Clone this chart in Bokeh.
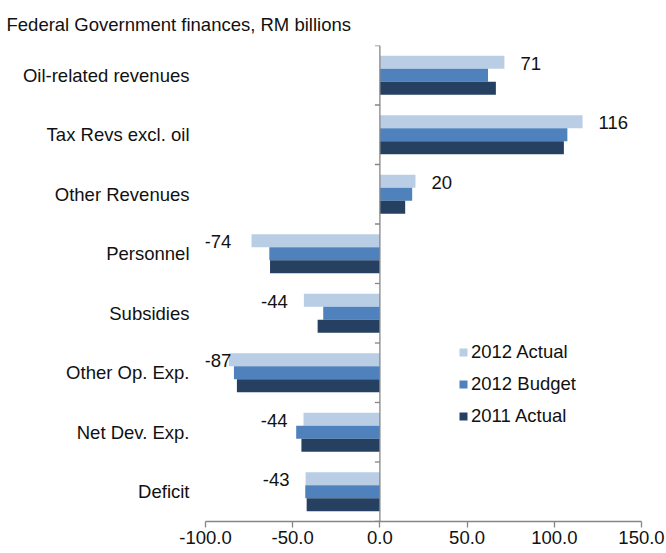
from bokeh.plotting import figure
from bokeh.models import (ColumnDataSource, Range1d, LinearAxis, FixedTicker,
                          NumeralTickFormatter, Legend, LegendItem, Title, Span)
from bokeh.embed import file_html
from bokeh.resources import INLINE

# ---- data ----
categories = ["Oil-related revenues", "Tax Revs excl. oil", "Other Revenues",
              "Personnel", "Subsidies", "Other Op. Exp.", "Net Dev. Exp.", "Deficit"]
series_names = ["2012 Actual", "2012 Budget", "2011 Actual"]
actual_2012 = [71.4, 116.2, 20.4, -73.6, -43.6, -86.6, -43.8, -42.6]
budget_2012 = [62.0, 107.5, 18.5, -63.4, -32.5, -83.7, -48.0, -42.8]
actual_2011 = [66.5, 105.5, 14.5, -63.0, -35.7, -82.0, -45.0, -42.0]
x_ticks = [-100, -50, 0, 50, 100, 150]
title_text = "Federal Government finances, RM billions"

colors = ["#B9CDE5", "#4F81BD", "#254061"]
FONT = "Liberation Sans"
FS = "18.5px"
GRAY = "#868686"
TXT = "#111111"

W, H = 666, 553
BL, BR, BT, BB = 205, 25, 45, 32
n = len(categories)
XMIN, XMAX = -100, 150
px_per_unit = (W - BL - BR) / (XMAX - XMIN)

p = figure(width=W, height=H, x_range=Range1d(XMIN, XMAX), y_range=Range1d(n, 0),
           output_backend="svg", toolbar_location=None,
           x_axis_location=None, y_axis_location=None,
           min_border_left=BL, min_border_right=BR, min_border_top=BT, min_border_bottom=BB,
           outline_line_color=None, background_fill_color="white", border_fill_color="white")
p.grid.grid_line_color = None

p.title = Title(text=title_text, align="left", offset=-199, standoff=22,
                text_font=FONT, text_font_size=FS, text_font_style="normal", text_color=TXT)

# bars
bar_h = 0.218
all_series = [actual_2012, budget_2012, actual_2011]
renderers = []
for k, vals in enumerate(all_series):
    ys = [i + 0.5 + (k - 1) * bar_h for i in range(n)]
    src = ColumnDataSource(dict(y=ys, v=vals))
    r = p.hbar(y="y", left=0, right="v", height=bar_h, source=src,
               fill_color=colors[k], line_color=None)
    renderers.append(r)

# value labels (2012 Actual)
lx, ly, lt, la, lo = [], [], [], [], []
for i, v in enumerate(actual_2012):
    txt = str(int(round(v)))
    tw = len(txt) * 10.3
    if v >= 0:
        lx.append(v); la.append("left"); lo.append(16)
    else:
        need = (16 + tw) / px_per_unit
        if v - need < XMIN:
            lx.append(XMIN); la.append("left"); lo.append(-1)
        else:
            lx.append(v); la.append("right"); lo.append(-16)
    ly.append(i + 0.5 - bar_h)
    lt.append(txt)
lsrc = ColumnDataSource(dict(x=lx, y=ly, t=lt, a=la, o=lo))
p.text(x="x", y="y", text="t", text_align="a", x_offset="o", y_offset=1,
       text_baseline="middle", text_font_size=FS, text_color=TXT,
       text_font={"value": FONT}, source=lsrc)

# category labels axis
centers = [i + 0.5 for i in range(n)]
cat_axis = LinearAxis(ticker=FixedTicker(ticks=centers),
                      major_label_overrides={c: name for c, name in zip(centers, categories)},
                      axis_line_color=None, major_tick_line_color=None,
                      minor_tick_line_color=None, major_tick_in=0, major_tick_out=0,
                      major_label_standoff=16, major_label_text_font=FONT,
                      major_label_text_font_size=FS, major_label_text_color=TXT)
p.add_layout(cat_axis, "left")

# vertical axis line at x = 0 with boundary ticks
p.add_layout(Span(location=0, dimension="height", line_color=GRAY, line_width=1.3))
bounds = list(range(n + 1))
tick_len = 5 / px_per_unit
p.segment(x0=[0] * len(bounds), x1=[-tick_len] * len(bounds), y0=bounds, y1=bounds,
          line_color=GRAY, line_width=1.3)

# value axis
x_axis = LinearAxis(ticker=FixedTicker(ticks=x_ticks),
                    formatter=NumeralTickFormatter(format="0.0"),
                    axis_line_color=GRAY, axis_line_width=1.3,
                    major_tick_line_color=GRAY, major_tick_line_width=1.3,
                    major_tick_in=0, major_tick_out=6, minor_tick_line_color=None,
                    major_label_standoff=3, major_label_text_font=FONT,
                    major_label_text_font_size=FS, major_label_text_color=TXT)
p.add_layout(x_axis, "below")

legend = Legend(items=[LegendItem(label=nm, renderers=[r]) for nm, r in zip(series_names, renderers)],
                location=(253, 94), glyph_width=10, glyph_height=10, label_standoff=3,
                spacing=10, padding=0, margin=0, label_height=20,
                border_line_color=None, background_fill_alpha=0,
                label_text_font=FONT, label_text_font_size=FS, label_text_color=TXT)
p.add_layout(legend)

open("out.html", "w").write(file_html(p, INLINE))
